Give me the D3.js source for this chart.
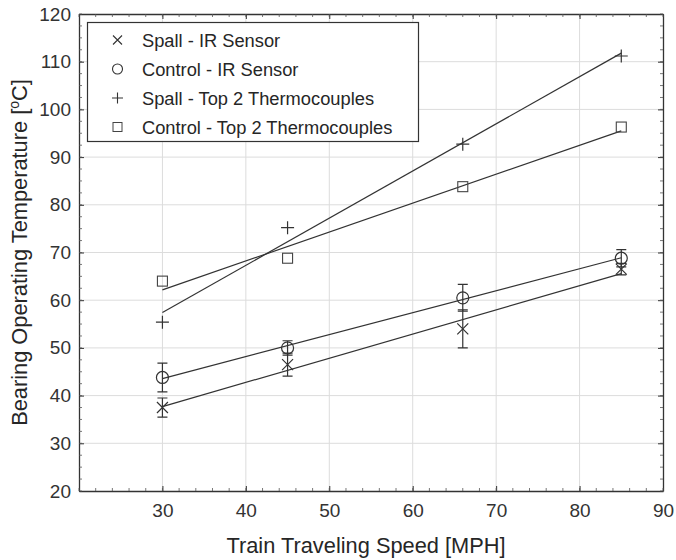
<!DOCTYPE html>
<html>
<head>
<meta charset="utf-8">
<script src="https://cdn.jsdelivr.net/npm/d3@7"></script>
<style>
  body { margin: 0; background: #fff; }
  svg text { font-family: "Liberation Sans", Arial, sans-serif; fill: #262626; }
</style>
</head>
<body>
<svg id="chart" width="676" height="560"></svg>
<script>
// speeds tested (MPH)
const speeds = [30, 45, 66, 85];

// series values
const spallIR = [37.5, 46.5, 54.0, 66.5];
const spallIRErr = [2.0, 2.4, 4.0, 1.2];
const controlIR = [43.8, 50.0, 60.5, 68.8];
const controlIRErr = [3.0, 1.5, 2.8, 1.8];
const spallTC = [55.4, 75.2, 92.7, 111.2];
const controlTC = [64.0, 68.8, 83.8, 96.3];

const seriesNames = ["Spall - IR Sensor", "Control - IR Sensor", "Spall - Top 2 Thermocouples", "Control - Top 2 Thermocouples"];
const xTicks = [30, 40, 50, 60, 70, 80, 90];
const yTicks = [20, 30, 40, 50, 60, 70, 80, 90, 100, 110, 120];

const margin = {top: 14, right: 13, bottom: 69, left: 79};
const W = 676, H = 560;
const svg = d3.select("#chart");

var x = d3.scaleLinear().domain([20, 90]).range([margin.left, W - margin.right]);
var y = d3.scaleLinear().domain([20, 120]).range([H - margin.bottom, margin.top]);

const series = [
  {name: seriesNames[0], vals: spallIR, err: spallIRErr, sym: "x"},
  {name: seriesNames[1], vals: controlIR, err: controlIRErr, sym: "o"},
  {name: seriesNames[2], vals: spallTC, err: null, sym: "+"},
  {name: seriesNames[3], vals: controlTC, err: null, sym: "s"}
];

// grid
svg.append("g").selectAll("line").data(xTicks.slice(0, -1)).enter().append("line")
  .attr("x1", d => x(d)).attr("x2", d => x(d))
  .attr("y1", y(20)).attr("y2", y(120))
  .attr("stroke", "#dcdcdc").attr("stroke-width", 1);
svg.append("g").selectAll("line").data(yTicks.slice(1, -1)).enter().append("line")
  .attr("x1", x(20)).attr("x2", x(90))
  .attr("y1", d => y(d)).attr("y2", d => y(d))
  .attr("stroke", "#dcdcdc").attr("stroke-width", 1);

// axes (ticks inward) on all four sides
const xMinor = d3.range(20, 90.01, 2);
const yMinor = d3.range(20, 120.01, 2.5);
function styleAxis(g) {
  g.select(".domain").attr("stroke", "#333").attr("stroke-width", 1.3);
  g.selectAll(".tick line").attr("stroke", "#333");
  g.selectAll(".tick text").attr("font-size", "19px").style("fill", "#333");
}
svg.append("g").attr("transform", `translate(0,${y(20)})`)
  .call(d3.axisBottom(x).tickValues(xTicks).tickSize(-5).tickPadding(13).tickSizeOuter(0))
  .call(styleAxis);
svg.append("g").attr("transform", `translate(${x(20)},0)`)
  .call(d3.axisLeft(y).tickValues(yTicks).tickSize(-5).tickPadding(8).tickSizeOuter(0))
  .call(styleAxis);
svg.append("g").attr("transform", `translate(0,${y(120)})`)
  .call(d3.axisTop(x).tickValues(xTicks).tickSize(-5).tickFormat("").tickSizeOuter(0))
  .call(styleAxis);
svg.append("g").attr("transform", `translate(${x(90)},0)`)
  .call(d3.axisRight(y).tickValues(yTicks).tickSize(-5).tickFormat("").tickSizeOuter(0))
  .call(styleAxis);

// minor ticks
const minor = svg.append("g").attr("stroke", "#555").attr("stroke-width", 0.8);
xMinor.forEach(v => {
  minor.append("line").attr("x1", x(v)).attr("x2", x(v)).attr("y1", y(20)).attr("y2", y(20) - 3);
  minor.append("line").attr("x1", x(v)).attr("x2", x(v)).attr("y1", y(120)).attr("y2", y(120) + 3);
});
yMinor.forEach(v => {
  minor.append("line").attr("x1", x(20)).attr("x2", x(20) + 3).attr("y1", y(v)).attr("y2", y(v));
  minor.append("line").attr("x1", x(90)).attr("x2", x(90) - 3).attr("y1", y(v)).attr("y2", y(v));
});

// least squares fit lines
function fit(xs, ys) {
  const mx = d3.mean(xs), my = d3.mean(ys);
  let sxy = 0, sxx = 0;
  xs.forEach((v, i) => { sxy += (v - mx) * (ys[i] - my); sxx += (v - mx) * (v - mx); });
  const b = sxy / sxx;
  return v => my + b * (v - mx);
}
const plot = svg.append("g");
series.forEach(s => {
  const f = fit(speeds, s.vals);
  const ends = d3.extent(speeds);
  plot.append("path")
    .attr("d", d3.line().x(d => x(d)).y(d => y(f(d)))(ends))
    .attr("fill", "none").attr("stroke", "#333").attr("stroke-width", 1.2);
});

// markers
function drawSym(g, sym, cx, cy) {
  const r = 5.5;
  if (sym === "x") {
    g.append("path").attr("d", `M${cx - r},${cy - r}L${cx + r},${cy + r}M${cx - r},${cy + r}L${cx + r},${cy - r}`)
      .attr("stroke", "#333").attr("stroke-width", 1.2).attr("fill", "none");
  } else if (sym === "o") {
    g.append("circle").attr("cx", cx).attr("cy", cy).attr("r", 6)
      .attr("stroke", "#333").attr("stroke-width", 1.2).attr("fill", "none");
  } else if (sym === "+") {
    g.append("path").attr("d", `M${cx - 6.5},${cy}L${cx + 6.5},${cy}M${cx},${cy - 6.5}L${cx},${cy + 6.5}`)
      .attr("stroke", "#333").attr("stroke-width", 1.2).attr("fill", "none");
  } else {
    g.append("rect").attr("x", cx - 5).attr("y", cy - 5).attr("width", 10).attr("height", 10)
      .attr("stroke", "#444").attr("stroke-width", 1.1).attr("fill", "none");
  }
}
series.forEach(s => {
  s.vals.forEach((v, i) => {
    if (s.err) {
      const lo = y(v - s.err[i]), hi = y(v + s.err[i]), cx = x(speeds[i]);
      plot.append("path")
        .attr("d", `M${cx},${lo}L${cx},${hi}M${cx - 5},${lo}L${cx + 5},${lo}M${cx - 5},${hi}L${cx + 5},${hi}`)
        .attr("stroke", "#333").attr("stroke-width", 1.2).attr("fill", "none");
    }
    drawSym(plot, s.sym, x(speeds[i]), y(v));
  });
});

// legend
const leg = svg.append("g");
leg.append("rect").attr("x", 87.5).attr("y", 22.5).attr("width", 331).attr("height", 119)
  .attr("fill", "#fff").attr("stroke", "#333").attr("stroke-width", 1.2);
series.forEach((s, i) => {
  const cy = 40 + i * 29;
  const g = leg.append("g");
  if (s.sym === "x") {
    g.append("path").attr("d", `M${113},${cy - 4.5}L${122},${cy + 4.5}M${113},${cy + 4.5}L${122},${cy - 4.5}`)
      .attr("stroke", "#333").attr("stroke-width", 1.1);
  } else if (s.sym === "o") {
    g.append("circle").attr("cx", 117.5).attr("cy", cy).attr("r", 5).attr("fill", "none").attr("stroke", "#333").attr("stroke-width", 1.1);
  } else if (s.sym === "+") {
    g.append("path").attr("d", `M${112},${cy}L${123},${cy}M${117.5},${cy - 5.5}L${117.5},${cy + 5.5}`)
      .attr("stroke", "#333").attr("stroke-width", 1.1);
  } else {
    g.append("rect").attr("x", 113).attr("y", cy - 4.5).attr("width", 9).attr("height", 9)
      .attr("fill", "none").attr("stroke", "#444").attr("stroke-width", 1);
  }
  leg.append("text").attr("x", 142).attr("y", cy + 6.5).attr("font-size", "18.3px").text(s.name);
});

// axis labels
svg.append("text").attr("x", x(55) - 5).attr("y", 553).attr("text-anchor", "middle")
  .attr("font-size", "21.8px").text("Train Traveling Speed [MPH]");
const yl = svg.append("text").attr("transform", `translate(27,${(y(20) + y(120)) / 2}) rotate(-90)`)
  .attr("text-anchor", "middle").attr("font-size", "21.8px");
yl.append("tspan").text("Bearing Operating Temperature [");
yl.append("tspan").attr("font-size", "14px").attr("dy", "-8").text("o");
yl.append("tspan").attr("dy", "8").text("C]");
</script>
</body>
</html>
